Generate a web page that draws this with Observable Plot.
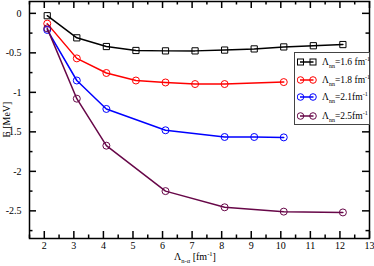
<!DOCTYPE html>
<html><head><meta charset="utf-8">
<script src="https://cdn.jsdelivr.net/npm/d3@7"></script>
<script src="https://cdn.jsdelivr.net/npm/@observablehq/plot@0.6"></script>
<style>
body{margin:0;background:#fff;}
#wrap{position:relative;width:374px;height:266px;font-family:"Liberation Serif","Times New Roman",serif;}
.legend{position:absolute;left:294px;top:52px;width:76px;height:73px;border:1px solid #444;background:#fff;box-sizing:border-box;font-size:9.5px;color:#000;}
.row{position:absolute;left:2px;height:14px;display:flex;align-items:center;white-space:nowrap;}
.row svg{margin-right:5px;}
sub,sup{font-size:6px;line-height:0;}
</style></head><body><div id="wrap"></div>
<script>
// Series data (Lambda_{n-alpha} in fm^-1, E in MeV)
const labels = ["1.6 fm", "1.8 fm", "2.1fm", "2.5fm"];
const colors = ["#000000", "#ff0000", "#0000ff", "#670748"];
const symbols = ["square", "circle", "circle", "circle"];

const x16 = [2.1, 3.1, 4.1, 5.1, 6.1, 7.1, 8.1, 9.1, 10.1, 11.1, 12.1];
const y16 = [-0.03, -0.31, -0.42, -0.47, -0.475, -0.475, -0.465, -0.45, -0.425, -0.41, -0.395];
const x18 = [2.1, 3.1, 4.1, 5.1, 6.1, 7.1, 8.1, 10.1];
const y18 = [-0.13, -0.57, -0.755, -0.85, -0.875, -0.895, -0.895, -0.87];
const x21 = [2.1, 3.1, 4.1, 6.1, 8.1, 9.1, 10.1];
const y21 = [-0.21, -0.85, -1.21, -1.48, -1.565, -1.565, -1.57];
const x25 = [2.1, 3.1, 4.1, 6.1, 8.1, 10.1, 12.1];
const y25 = [-0.19, -1.08, -1.675, -2.25, -2.455, -2.51, -2.52];

const xTicks = [2, 3, 4, 5, 6, 7, 8, 9, 10, 11, 12, 13];
const xMinor = [1.5, 2.5, 3.5, 4.5, 5.5, 6.5, 7.5, 8.5, 9.5, 10.5, 11.5, 12.5];
const yTicks = [0, -0.5, -1, -1.5, -2, -2.5];
const yMinor = [-0.25, -0.75, -1.25, -1.75, -2.25, -2.75];

const xs = [x16, x18, x21, x25];
const ys = [y16, y18, y21, y25];
const data = [];
xs.forEach((xa, s) => xa.forEach((x, i) => data.push({s, x, y: ys[s][i]})));

const W = 374, H = 266, mL = 29, mR = 5, mT = 1, mB = 28;
const iW = W - mL - mR, iH = H - mT - mB;
const MJ = 7, MN = 3.5;

const marks = [
  Plot.ruleX(xTicks, {insetTop: iH - MJ, strokeWidth: 1.5}),
  Plot.ruleX(xTicks, {insetBottom: iH - MJ, strokeWidth: 1.5}),
  Plot.ruleX(xMinor, {insetTop: iH - MN, strokeWidth: 1.5}),
  Plot.ruleX(xMinor, {insetBottom: iH - MN, strokeWidth: 1.5}),
  Plot.ruleY(yTicks, {insetRight: iW - MJ, strokeWidth: 1.5}),
  Plot.ruleY(yTicks, {insetLeft: iW - MJ, strokeWidth: 1.5}),
  Plot.ruleY(yMinor, {insetRight: iW - MN, strokeWidth: 1.5}),
  Plot.ruleY(yMinor, {insetLeft: iW - MN, strokeWidth: 1.5}),
  Plot.axisX({ticks: xTicks, tickSize: 0, tickPadding: 3, tickFormat: d => String(d), fontSize: 10, label: null}),
  Plot.axisY({ticks: yTicks, tickSize: 0, tickPadding: 8, tickFormat: d => String(d), fontSize: 10, label: null}),
];
for (let s = 0; s < 4; s++) {
  const d = data.filter(p => p.s === s);
  marks.push(Plot.line(d, {x: "x", y: "y", stroke: colors[s], strokeWidth: 1.5}));
  marks.push(Plot.dot(d, {x: "x", y: "y", stroke: colors[s], fill: "none", r: 3.5, strokeWidth: 1, symbol: symbols[s]}));
}
marks.push(Plot.frame({strokeWidth: 1.5}));

const chart = Plot.plot({
  width: W, height: H,
  marginLeft: mL, marginRight: mR, marginTop: mT, marginBottom: mB,
  x: {domain: [1.5, 13]},
  y: {domain: [-2.85, 0.15]},
  style: {fontFamily: '"Liberation Serif","Times New Roman",serif', fontSize: "10px", background: "#fff", color: "#000"},
  marks
});
const wrap = document.getElementById("wrap");
wrap.appendChild(chart);

// axis titles
const svg = d3.select(chart);
const xt = svg.append("text").attr("x", mL + iW / 2 - 4).attr("y", 260).attr("text-anchor", "middle")
  .attr("font-size", 10).attr("fill", "#000");
xt.append("tspan").text("Λ");
xt.append("tspan").attr("font-size", 6.5).attr("dy", 3).text("n-α");
xt.append("tspan").attr("dy", -3).text(" [fm");
xt.append("tspan").attr("font-size", 6.5).attr("dy", -4).text("-1");
xt.append("tspan").attr("dy", 4).text("]");
svg.append("text").attr("transform", `translate(10,${mT + iH / 2}) rotate(-90)`).attr("text-anchor", "middle")
  .attr("font-size", 10).attr("fill", "#000").text("E [MeV]");

// legend
const leg = document.createElement("div");
leg.className = "legend";
const rowTops = [2, 19.5, 37, 55.5];
labels.forEach((lab, s) => {
  const r = document.createElement("div");
  r.className = "row";
  r.style.top = rowTops[s] + "px";
  const c = colors[s];
  const m = symbols[s] === "square"
    ? `<rect x="0.5" y="4" width="6" height="6" fill="none" stroke="${c}"/><rect x="13" y="4" width="6" height="6" fill="none" stroke="${c}"/>`
    : `<circle cx="3.5" cy="7" r="3.3" fill="none" stroke="${c}"/><circle cx="16" cy="7" r="3.3" fill="none" stroke="${c}"/>`;
  r.innerHTML = `<svg width="20" height="14"><line x1="3" x2="16.5" y1="7" y2="7" stroke="${c}" stroke-width="1.5"/>${m}</svg>` +
    `<span>Λ<sub>nn</sub>=${lab}<sup>-1</sup></span>`;
  leg.appendChild(r);
});
wrap.appendChild(leg);
</script>
</body></html>
